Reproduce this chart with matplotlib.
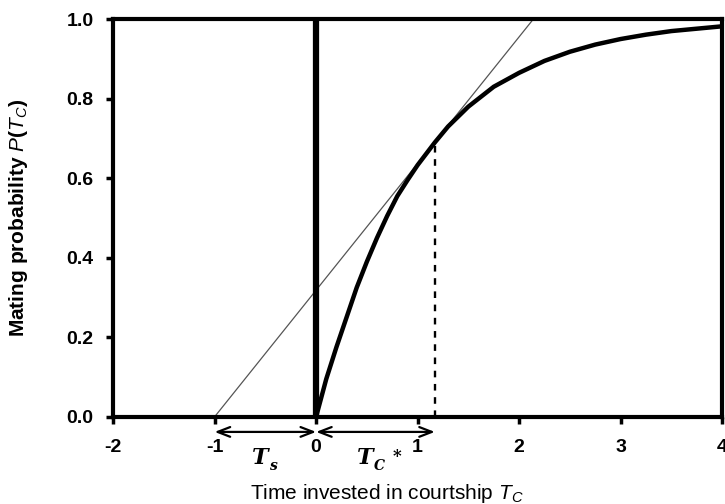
import matplotlib
matplotlib.use("Agg")
from matplotlib import pyplot as plt

plt.rcParams['font.family'] = ['Liberation Sans', 'DejaVu Sans']
plt.rcParams['mathtext.fontset'] = 'custom'
plt.rcParams['mathtext.it'] = 'Liberation Sans:italic'
plt.rcParams['mathtext.rm'] = 'Liberation Sans'
plt.rcParams['mathtext.bf'] = 'Liberation Sans:bold'

# values
time_c = [0.0, 0.1, 0.2, 0.3, 0.4, 0.5, 0.6, 0.7, 0.8, 0.9, 1.0, 1.17, 1.3, 1.5,
          1.75, 2.0, 2.25, 2.5, 2.75, 3.0, 3.25, 3.5, 3.75, 4.0]
prob = [0.0, 0.095, 0.175, 0.25, 0.325, 0.39, 0.45, 0.505, 0.555, 0.595, 0.633, 0.69,
        0.73, 0.78, 0.83, 0.865, 0.895, 0.918, 0.936, 0.95, 0.961, 0.970, 0.976, 0.982]
tangent_x = [-1.0, 2.14]
tangent_y = [0.0, 1.0]
t_star = 1.17
p_star = 0.69
t_s = -1.0

xticks = [-2, -1, 0, 1, 2, 3, 4]
yticks = [0.0, 0.2, 0.4, 0.6, 0.8, 1.0]

fig = plt.figure(figsize=(7.25, 5.04), dpi=100)
ax = fig.add_axes([0.156, 0.173, 0.84, 0.789])

ax.plot(tangent_x, tangent_y, color='#555555', lw=0.9, clip_on=False)
ax.plot(time_c, prob, color='black', lw=3.2, solid_capstyle='butt')
ax.plot([0, 0], [0, 1], color='black', lw=4.5, solid_capstyle='butt')
ax.plot([t_star, t_star], [0, p_star], color='black', lw=1.7, ls=(0, (2.8, 2.8)))

ax.set_xlim(-2, 4)
ax.set_ylim(0, 1)
ax.set_xticks(xticks)
ax.set_xticklabels([str(v) for v in xticks], fontsize=14, fontweight='bold')
ax.set_yticks(yticks)
ax.set_yticklabels(['%.1f' % v for v in yticks], fontsize=14, fontweight='bold')
for s in ax.spines.values():
    s.set_linewidth(3)
ax.tick_params(axis='x', length=5, width=2.5, pad=11)
ax.tick_params(axis='y', length=5, width=2.5, pad=9)

# arrows under the axis
arr_y = -0.038
ax.annotate('', xy=(t_s, arr_y), xytext=(0, arr_y), xycoords='data',
            annotation_clip=False,
            arrowprops=dict(arrowstyle='<->,head_length=0.9,head_width=0.35',
                            lw=1.6, color='black', shrinkA=0, shrinkB=0))
ax.annotate('', xy=(0, arr_y), xytext=(t_star, arr_y), xycoords='data',
            annotation_clip=False,
            arrowprops=dict(arrowstyle='<->,head_length=0.9,head_width=0.35',
                            lw=1.6, color='black', shrinkA=0, shrinkB=0))

# T_s and T_C* labels
lab_font = dict(fontfamily='DejaVu Serif', fontweight='bold', style='italic',
                clip_on=False, color='black')
ax.text(-0.55, -0.075, 'T', fontsize=16, ha='center', va='top', **lab_font)
ax.text(-0.42, -0.105, 's', fontsize=10, ha='center', va='top', **lab_font)
ax.text(0.48, -0.075, 'T', fontsize=16, ha='center', va='top', **lab_font)
ax.text(0.62, -0.105, 'C', fontsize=10, ha='center', va='top', **lab_font)
ax.text(0.8, -0.078, '*', fontsize=12, ha='center', va='top', **lab_font)

ax.set_xlabel(r'Time invested in courtship $T_C$', fontsize=15)
ax.xaxis.set_label_coords(0.45, -0.163)
ax.xaxis.label.set_va('top')
ax.set_ylabel(r'Mating probability $\mathbf{\mathit{P}(\mathit{T}_{\mathit{C}})}$',
              fontsize=15, fontweight='bold')
ax.yaxis.set_label_coords(-0.136, 0.5)

fig.savefig('out.png', dpi=100)
